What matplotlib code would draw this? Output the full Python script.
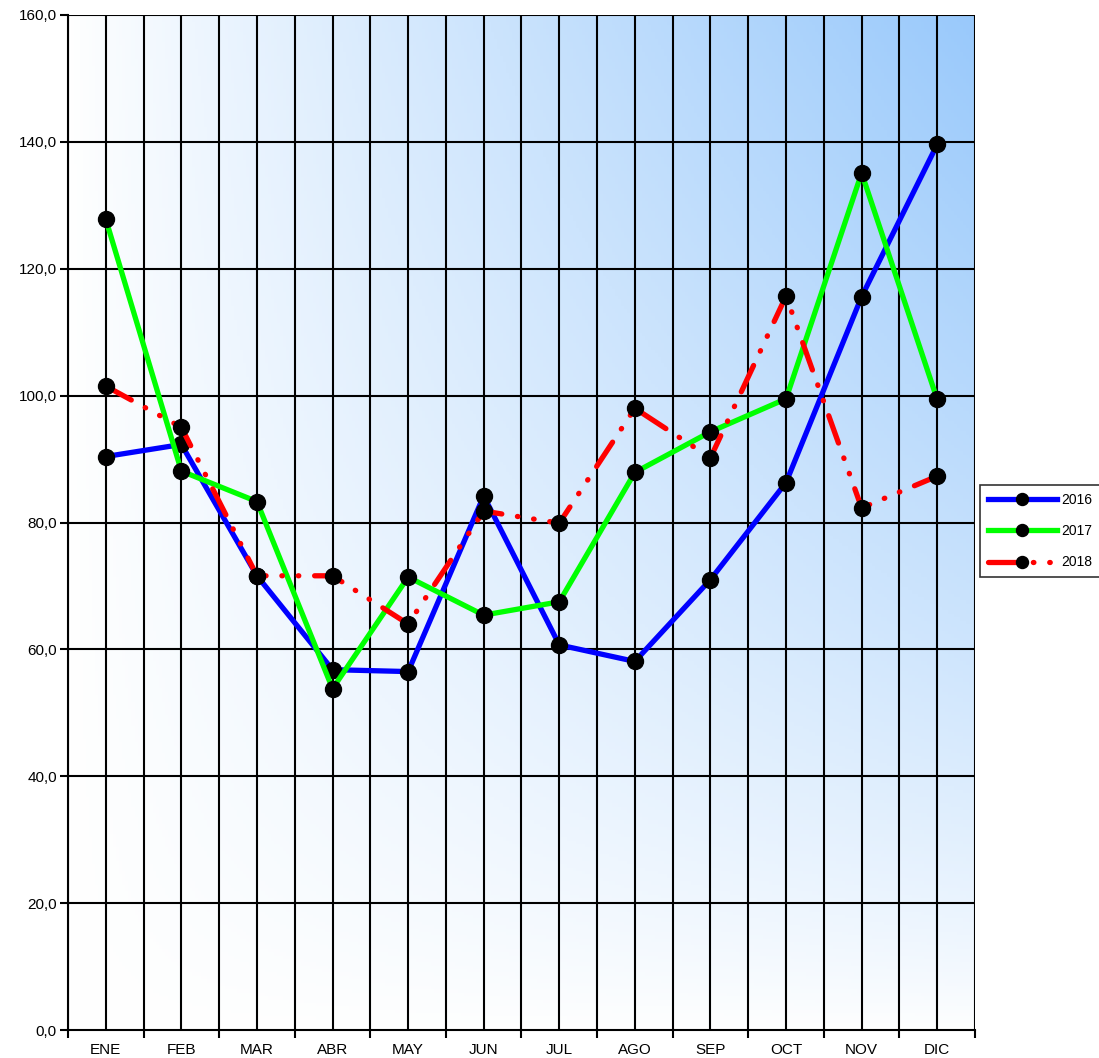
import matplotlib
matplotlib.use('Agg')
import matplotlib.pyplot as plt
import numpy as np
from matplotlib.ticker import FixedLocator, FuncFormatter

plt.rcParams['font.family'] = ['Liberation Sans', 'DejaVu Sans']

# Data
months = ['ENE', 'FEB', 'MAR', 'ABR', 'MAY', 'JUN', 'JUL', 'AGO', 'SEP', 'OCT', 'NOV', 'DIC']
v2016 = [90.4, 92.3, 71.6, 56.8, 56.5, 84.2, 60.7, 58.1, 71.0, 86.3, 115.6, 139.6]
v2017 = [127.8, 88.1, 83.3, 53.8, 71.4, 65.4, 67.5, 87.9, 94.3, 99.5, 135.1, 99.4]
v2018 = [101.5, 95.0, 71.6, 71.6, 64.0, 81.8, 79.9, 98.0, 90.2, 115.7, 82.3, 87.3]

fig = plt.figure(figsize=(10.99, 10.58), dpi=100)
ax = fig.add_axes([68/1099, 28/1058, 907/1099, 1015/1058])

x = np.arange(len(months))
ax.set_xlim(-0.5, len(months) - 0.5)
ax.set_ylim(0, 160)

# background gradient: white bottom-left to light blue top-right
gx = np.linspace(0, 1, 300)
gy = np.linspace(0, 1, 300)
GX, GY = np.meshgrid(gx, gy)
t = GX ** 0.9 * GY ** 0.75
c0 = np.array([1.0, 1.0, 1.0])
c1 = np.array([0x99, 0xc9, 0xfb]) / 255.0
img = c0[None, None, :] * (1 - t[..., None]) + c1[None, None, :] * t[..., None]
ax.imshow(img, origin='lower', extent=(-0.5, len(months) - 0.5, 0, 160),
          aspect='auto', zorder=0)

# grid
for xi in np.arange(-0.5, len(months), 0.5):
    ax.axvline(xi, color='black', lw=1.5, zorder=1)
for yi in range(20, 161, 20):
    ax.axhline(yi, color='black', lw=1.5, zorder=1)

mk = dict(marker='o', markersize=11.5, markerfacecolor='black', markeredgecolor='black')
ax.plot(x, v2016, color='#0000ff', lw=3.8, label='2016', zorder=3, **mk)
ax.plot(x, v2017, color='#00ff00', lw=3.8, label='2017', zorder=4, **mk)
ax.plot(x, v2018, color='#ff0000', lw=3.8, label='2018', zorder=5,
        linestyle=(0, (5.5, 3, 0.1, 3, 0.1, 3)), dash_capstyle='round', **mk)

# axes
ax.xaxis.set_major_locator(FixedLocator(np.arange(-0.5, len(months), 1.0)))
ax.xaxis.set_minor_locator(FixedLocator(x))
ax.set_xticklabels([])
ax.set_xticklabels(months, minor=True)
ax.tick_params(axis='x', which='major', length=6, width=1.5, direction='out')
ax.tick_params(axis='x', which='minor', length=0, labelsize=11, pad=9)
ax.set_yticks(np.arange(0, 161, 20))
ax.yaxis.set_major_formatter(FuncFormatter(lambda v, p: ('%.1f' % v).replace('.', ',')))
ax.tick_params(axis='y', length=6, width=1.5, labelsize=11, pad=2)
for s in ['top', 'right']:
    ax.spines[s].set_visible(False)
for s in ['left', 'bottom']:
    ax.spines[s].set_linewidth(1.5)

leg = ax.legend(loc='upper left', bbox_to_anchor=((980 - 68) / 907, (1030 - 485) / 1015),
                fontsize=10, frameon=True, fancybox=False, edgecolor='black',
                handlelength=5.0, numpoints=1, borderpad=0.55, labelspacing=1.25,
                handletextpad=0.3, borderaxespad=0, markerscale=0.75)
leg.get_frame().set_linewidth(1.2)

fig.savefig('out.png', dpi=100)
